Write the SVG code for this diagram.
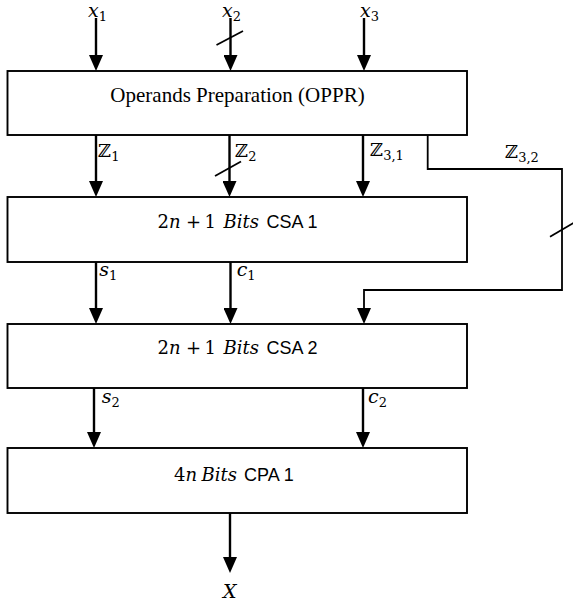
<svg xmlns="http://www.w3.org/2000/svg" width="573" height="603" viewBox="0 0 573 603">
  <style>
    .box { fill: #ffffff; stroke: #000000; stroke-width: 1.9; }
    .arrow { fill: none; stroke: #000000; stroke-width: 2.4; marker-end: url(#ah); }
    .route { fill: none; stroke: #000000; stroke-width: 1.8; marker-end: url(#ah); }
    .tick { stroke: #000000; stroke-width: 1.8; }
    .title { font-family: "Liberation Serif", "Times New Roman", serif; font-size: 21px; fill: #000; }
    .m { font-family: "DejaVu Serif", serif; font-size: 18px; fill: #000; }
    .mi { font-family: "DejaVu Serif", serif; font-size: 18px; font-style: italic; fill: #000; }
    .sans { font-family: "Liberation Sans", Arial, sans-serif; font-size: 18px; fill: #000; }
    .var { font-family: "DejaVu Serif", serif; font-size: 19px; font-style: italic; fill: #000; }
    .dz { font-family: "DejaVu Serif", "DejaVu Sans", serif; font-size: 18px; fill: #000; }
    .sub { font-family: "DejaVu Serif", serif; font-size: 13px; fill: #000; }
  </style>
  <defs>
    <marker id="ah" markerUnits="userSpaceOnUse" markerWidth="16" markerHeight="14" refX="0" refY="7" orient="auto">
      <path d="M0,0 L16,7 L0,14 z" fill="#000000"/>
    </marker>
  </defs>

  <!-- connectors -->
  <g id="connectors">
    <line class="arrow" x1="96" y1="18" x2="96" y2="55"/>
    <line class="arrow" x1="230.5" y1="18" x2="230.5" y2="55"/>
    <line class="arrow" x1="364" y1="18" x2="364" y2="55"/>
    <line class="tick" x1="216.5" y1="45" x2="243" y2="31"/>

    <line class="arrow" x1="96" y1="135" x2="96" y2="181"/>
    <line class="arrow" x1="229.5" y1="135" x2="229.5" y2="181"/>
    <line class="arrow" x1="363" y1="135" x2="363" y2="181"/>
    <line class="tick" x1="215" y1="176" x2="241" y2="161.5"/>

    <path class="route" d="M427.7,135 V169 H562 V290 H364 V308"/>
    <line class="tick" x1="550" y1="236.7" x2="576" y2="221.5"/>

    <line class="arrow" x1="96" y1="262" x2="96" y2="308"/>
    <line class="arrow" x1="230.5" y1="262" x2="230.5" y2="308"/>

    <line class="arrow" x1="94" y1="388" x2="94" y2="432"/>
    <line class="arrow" x1="363" y1="388" x2="363" y2="432"/>

    <line class="arrow" x1="230" y1="513" x2="230" y2="557"/>
  </g>

  <!-- operand preparation -->
  <g id="oppr">
    <rect class="box" x="7.5" y="71" width="459.5" height="64"/>
    <text class="title" x="237.5" y="102" text-anchor="middle">Operands Preparation (OPPR)</text>
  </g>

  <!-- first carry-save adder -->
  <g id="csa1">
    <rect class="box" x="7.5" y="197" width="459.5" height="65"/>
    <text y="227.5"><tspan class="m" x="157.5">2</tspan><tspan class="mi">n</tspan><tspan class="m" x="186">+</tspan><tspan class="m" x="204.5">1</tspan><tspan class="mi" x="223.5">Bits</tspan><tspan class="sans" x="266.5">CSA 1</tspan></text>
  </g>

  <!-- second carry-save adder -->
  <g id="csa2">
    <rect class="box" x="7.5" y="324" width="459.5" height="64"/>
    <text y="354"><tspan class="m" x="157.5">2</tspan><tspan class="mi">n</tspan><tspan class="m" x="186">+</tspan><tspan class="m" x="204.5">1</tspan><tspan class="mi" x="223.5">Bits</tspan><tspan class="sans" x="266.5">CSA 2</tspan></text>
  </g>

  <!-- carry-propagate adder -->
  <g id="cpa1">
    <rect class="box" x="7.5" y="448" width="459.5" height="65"/>
    <text y="480.5"><tspan class="m" x="174">4</tspan><tspan class="mi">n</tspan><tspan class="mi" x="201.5">Bits</tspan><tspan class="sans" x="244">CPA 1</tspan></text>
  </g>

  <!-- signal labels -->
  <g id="labels">
    <text x="88" y="16.7"><tspan class="var">x</tspan><tspan class="sub" dy="4">1</tspan></text>
    <text x="222" y="16.7"><tspan class="var">x</tspan><tspan class="sub" dy="4">2</tspan></text>
    <text x="360" y="16.7"><tspan class="var">x</tspan><tspan class="sub" dy="4">3</tspan></text>

    <text x="98" y="157"><tspan class="dz">ℤ</tspan><tspan class="sub" dy="4">1</tspan></text>
    <text x="235" y="157"><tspan class="dz">ℤ</tspan><tspan class="sub" dy="4">2</tspan></text>
    <text x="370" y="156"><tspan class="dz">ℤ</tspan><tspan class="sub" dy="4">3,1</tspan></text>
    <text x="505" y="158"><tspan class="dz">ℤ</tspan><tspan class="sub" dy="4">3,2</tspan></text>

    <text x="99.3" y="275.7"><tspan class="var">s</tspan><tspan class="sub" dy="4">1</tspan></text>
    <text x="236.7" y="275.7"><tspan class="var">c</tspan><tspan class="sub" dy="4">1</tspan></text>
    <text x="101.7" y="403.3"><tspan class="var">s</tspan><tspan class="sub" dy="4">2</tspan></text>
    <text x="368" y="403.3"><tspan class="var">c</tspan><tspan class="sub" dy="4">2</tspan></text>

    <text class="var" x="223" y="598">X</text>
  </g>
</svg>
